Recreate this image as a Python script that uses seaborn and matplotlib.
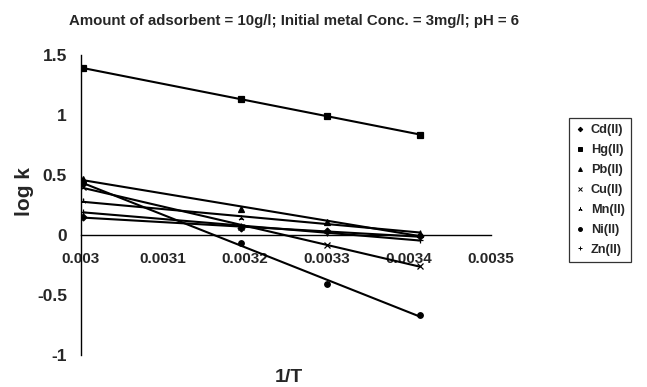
import numpy as np
import pandas as pd
import matplotlib
matplotlib.use("Agg")
import matplotlib.pyplot as plt
from matplotlib.ticker import FuncFormatter, MultipleLocator
from matplotlib.lines import Line2D
import seaborn as sns

# data (1/T in 1/K, log k)
inv_T = [0.003003, 0.003195, 0.0033, 0.003413]
metals = ["Cd(II)", "Hg(II)", "Pb(II)", "Cu(II)", "Mn(II)", "Ni(II)", "Zn(II)"]
cd = [0.15, 0.06, 0.03, -0.01]
hg = [1.39, 1.13, 0.995, 0.835]
pb = [0.47, 0.22, 0.105, 0.01]
cu = [0.40, 0.07, -0.085, -0.255]
mn = [0.28, 0.145, 0.10, 0.02]
ni = [0.43, -0.07, -0.405, -0.665]
zn = [0.19, 0.075, 0.02, -0.045]
series = [cd, hg, pb, cu, mn, ni, zn]

markers = ["D", "s", "^", "x", (3, 2, 0), "o", "+"]
msizes = [3.5, 4, 4, 4, 4, 4, 4.5]

df = pd.DataFrame({
    "inv_T": inv_T * len(metals),
    "logk": [v for s in series for v in s],
    "metal": [m for m in metals for _ in inv_T],
})

sns.set_style("white")
plt.rcParams["font.family"] = ["Liberation Sans", "DejaVu Sans"]
plt.rcParams["font.weight"] = "bold"

fig = plt.figure(figsize=(6.47, 3.87), dpi=100)
ax = fig.add_axes([81 / 647, 32 / 387, 410 / 647, 300 / 387])

handles = []
for m, mk, ms in zip(metals, markers, msizes):
    sub = df[df["metal"] == m]
    # excel style linear trendline plus the data points
    sns.regplot(data=sub, x="inv_T", y="logk", ax=ax, ci=None, scatter=False,
                line_kws={"color": "black", "lw": 1.5})
    ax.plot(sub["inv_T"], sub["logk"], linestyle="none", marker=mk, ms=ms,
            color="black", mew=0.9)
    handles.append(Line2D([], [], linestyle="none", marker=mk, ms=ms - 1.2,
                          color="black", mew=0.7, label=m))

ax.set_xlim(0.003, 0.0035)
ax.set_ylim(-1, 1.5)
ax.xaxis.set_major_locator(MultipleLocator(0.0001))
ax.yaxis.set_major_locator(MultipleLocator(0.5))
fmt = FuncFormatter(lambda v, p: "{:g}".format(round(v, 6)))
ax.xaxis.set_major_formatter(fmt)
ax.yaxis.set_major_formatter(fmt)

ax.spines["top"].set_visible(False)
ax.spines["right"].set_visible(False)
ax.spines["bottom"].set_position(("data", 0))
for sp in ["left", "bottom"]:
    ax.spines[sp].set_color("black")
    ax.spines[sp].set_linewidth(1.0)
ax.tick_params(axis="both", direction="out", length=5, width=1, color="black",
               pad=4)
ax.tick_params(axis="x", labelsize=11, pad=7)
ax.tick_params(axis="y", labelsize=12.5, pad=5)
for lab in ax.get_xticklabels() + ax.get_yticklabels():
    lab.set_fontweight("bold")
ax.set_xlabel("")
ax.set_ylabel("")

fig.text(294 / 647, 1 - 21 / 387,
         "Amount of adsorbent = 10g/l; Initial metal Conc. = 3mg/l; pH = 6",
         ha="center", va="center", fontsize=10.8, fontweight="bold")
fig.text(289 / 647, 1 - 378 / 387, "1/T", ha="center", va="center",
         fontsize=14, fontweight="bold")
fig.text(24 / 647, 1 - 192 / 387, "log k", ha="center", va="center",
         rotation=90, fontsize=15, fontweight="bold")

leg = fig.legend(handles=handles, loc="upper left",
                 bbox_to_anchor=(569 / 647, 1 - 118 / 387), frameon=True,
                 fancybox=False, edgecolor="black", fontsize=9.2,
                 handlelength=0.7, handletextpad=0.5, labelspacing=0.62,
                 borderpad=0.5, borderaxespad=0)
leg.get_frame().set_linewidth(0.9)
for t in leg.get_texts():
    t.set_fontweight("bold")

fig.savefig("out.png", dpi=100)
